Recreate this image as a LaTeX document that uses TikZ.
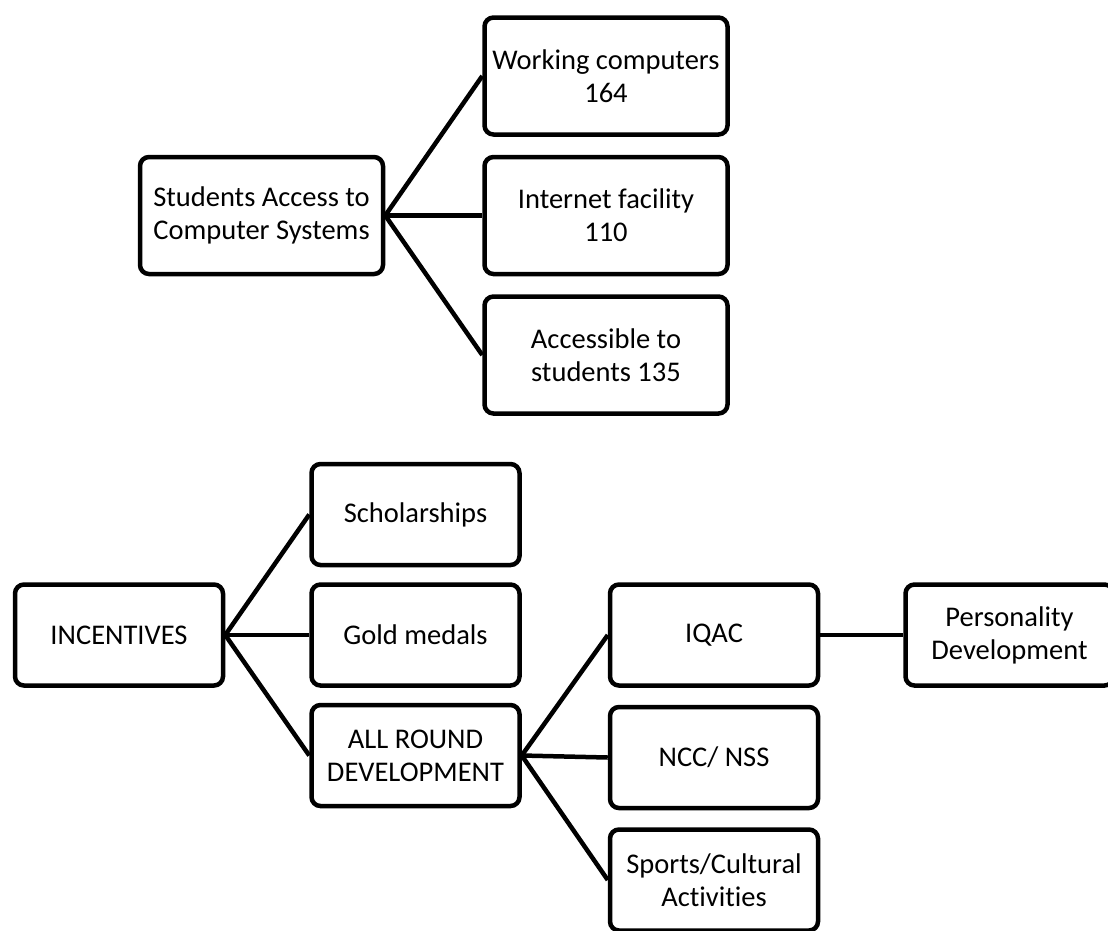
\documentclass[tikz,border=0pt]{standalone}
\usepackage{fontspec}
\setmainfont{Carlito}[Ligatures=NoCommon]
\usepackage{tikz}
\usetikzlibrary{positioning}
\definecolor{chLine}{RGB}{0, 0, 0}
\tikzset{
    base/.style={
        font=\fontsize{28.5}{33}\selectfont,
        align=center
    },
    block/.style={
        base,
        rectangle,
        rounded corners=9pt,
        draw=chLine,
        line width=4.5pt,
        fill=white,
        inner sep=1pt
    },
    topbox/.style={
        block,
        minimum width=243pt,
        minimum height=117pt
    },
    lowbox/.style={
        block,
        minimum width=208pt,
        minimum height=101pt
    },
    link/.style={
        line width=4.5pt,
        color=chLine
    }
}

\begin{document}
\begin{tikzpicture}[x=1pt, y=-1pt]
  \useasboundingbox (0,0) rectangle (1108,930);

  % Computer systems
  \node[topbox] (work) at (606,76) {Working computers\\164};
  \node[topbox, below=18pt of work] (inet) {Internet facility\\110};
  \node[topbox, below=18pt of inet] (acc) {Accessible to\\students 135};
  \node[topbox, left=97pt of inet] (stud) {Students Access to\\Computer Systems};

  \draw[link] (stud.east) -- (work.west);
  \draw[link] (stud.east) -- (inet.west);
  \draw[link] (stud.east) -- (acc.west);

  % Incentives
  \node[lowbox] (inc) at (119,635) {INCENTIVES};
  \node[lowbox, right=84pt of inc] (gold) {Gold medals};
  \node[lowbox, above=15pt of gold] (schol) {Scholarships};
  \node[lowbox, below=15pt of gold] (allr) {ALL ROUND\\DEVELOPMENT};

  \draw[link] (inc.east) -- (schol.west);
  \draw[link] (inc.east) -- (gold.west);
  \draw[link] (inc.east) -- (allr.west);

  % All round development
  \node[lowbox, right=86pt of gold] (iqac) {IQAC};
  \node[lowbox, below=17pt of iqac] (ncc) {NCC/ NSS};
  \node[lowbox, below=17pt of ncc] (sport) {Sports/Cultural\\Activities};
  \node[lowbox, right=83pt of iqac] (pers) {Personality\\Development};

  \draw[link] (allr.east) -- (iqac.west);
  \draw[link] (allr.east) -- (ncc.west);
  \draw[link] (allr.east) -- (sport.west);
  \draw[link] (iqac.east) -- (pers.west);
\end{tikzpicture}
\end{document}
